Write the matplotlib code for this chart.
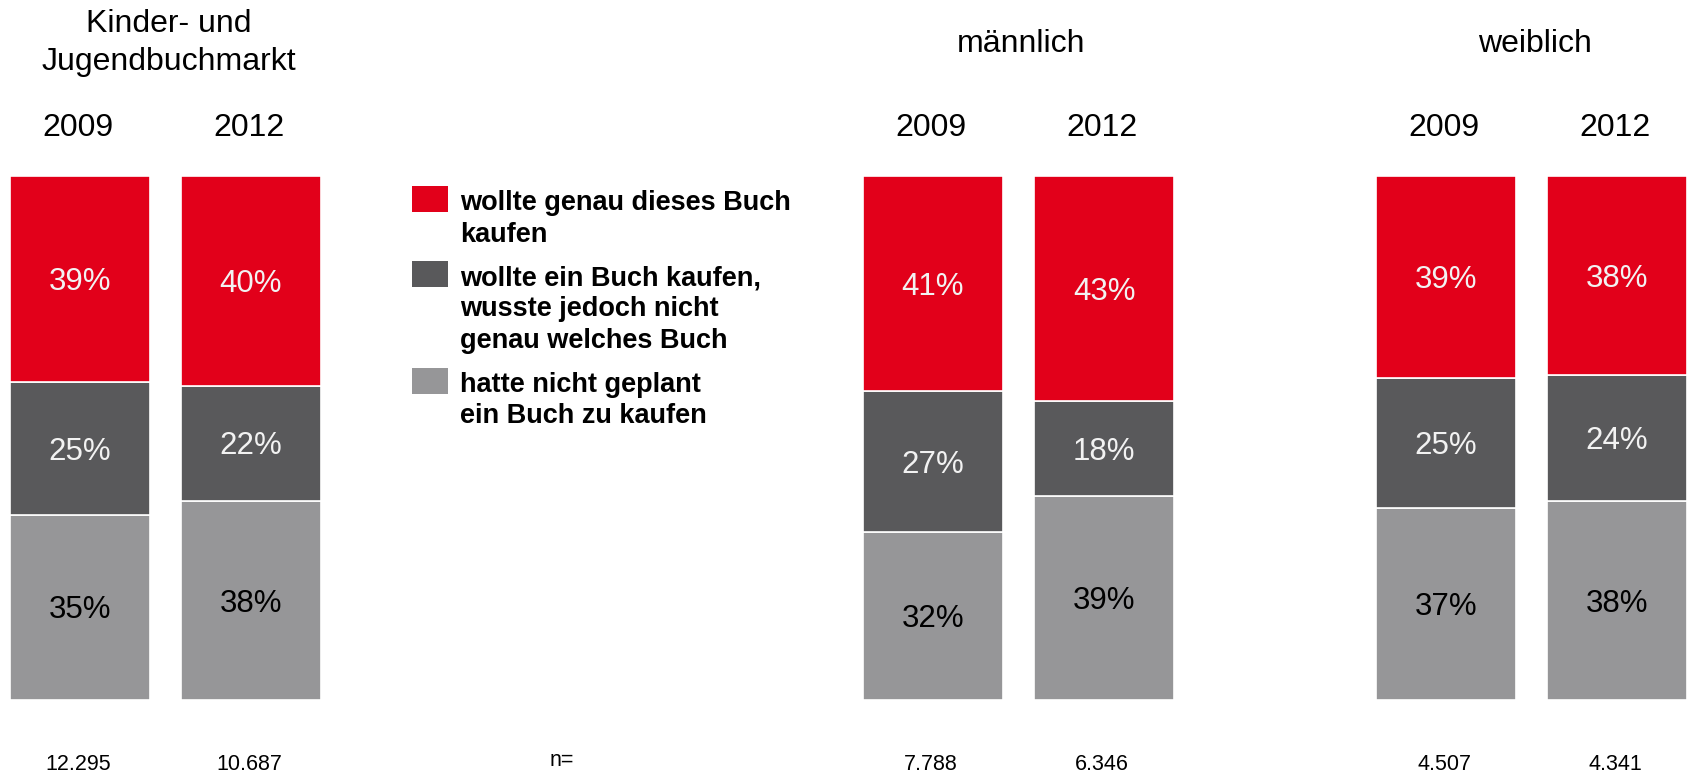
import numpy as np
import matplotlib
matplotlib.use('Agg')
import matplotlib.pyplot as plt
from matplotlib.patches import Rectangle

plt.rcParams['font.family'] = ['Liberation Sans', 'DejaVu Sans']

# === DATA ===
groups = ['Kinder- und\nJugendbuchmarkt', 'männlich', 'weiblich']
years = ['2009', '2012']
categories = ['wollte genau dieses Buch\nkaufen',
              'wollte ein Buch kaufen,\nwusste jedoch nicht\ngenau welches Buch',
              'hatte nicht geplant\nein Buch zu kaufen']
wollte_genau = [39, 40, 41, 43, 39, 38]
wollte_ein = [25, 22, 27, 18, 25, 24]
nicht_geplant = [35, 38, 32, 39, 37, 38]
n_values = ['12.295', '10.687', '7.788', '6.346', '4.507', '4.341']

# === STYLE / LAYOUT (pixels) ===
W, H = 1688, 772
colors = ['#E2001A', '#59595B', '#969698']
text_colors = ['#F2F2F2', '#F2F2F2', 'black']
bar_top, bar_bottom = 176, 700
group_first = [80, 933, 1446]   # centre of first bar in each group
pair_step = 171
bar_w = 140

def fx(x):
    return x / W

def fy(y):
    return 1 - y / H

fig = plt.figure(figsize=(W / 100, H / 100), dpi=100)
ax = fig.add_axes([0, fy(bar_bottom), 1, (bar_bottom - bar_top) / H])
ax.set_xlim(0, W)
ax.set_ylim(0, 100)
ax.axis('off')

xs = np.array([g + k * pair_step for g in group_first for k in range(2)], dtype=float)

# stack bottom -> top: nicht geplant, wollte ein, wollte genau
series = [np.array(nicht_geplant, float), np.array(wollte_ein, float), np.array(wollte_genau, float)]
totals = series[0] + series[1] + series[2]
shares = [s / totals * 100 for s in series]
labels = [nicht_geplant, wollte_ein, wollte_genau]
seg_colors = [colors[2], colors[1], colors[0]]
seg_text = [text_colors[2], text_colors[1], text_colors[0]]

bottom = np.zeros(len(xs))
for sh, lab, c, tc in zip(shares, labels, seg_colors, seg_text):
    ax.bar(xs, sh, width=bar_w, bottom=bottom, color=c, edgecolor='white', linewidth=1.2)
    for x, b, h, v in zip(xs, bottom, sh, lab):
        ax.annotate(f'{v}%', (x, b + h / 2), xytext=(0, -8), textcoords='offset points',
                    ha='center', va='baseline', fontsize=22.5, color=tc)
    bottom += sh

# === HEADERS ===
for gi, name in enumerate(groups):
    cx = group_first[gi] + pair_step / 2 + 3
    lines = name.split('\n')
    if len(lines) == 2:
        base = [32, 70]
    else:
        base = [52]
    for ln, b in zip(lines, base):
        fig.text(fx(cx), fy(b), ln, ha='center', va='baseline', fontsize=23)
    for k, yr in enumerate(years):
        fig.text(fx(group_first[gi] + k * pair_step - 2), fy(136), yr,
                 ha='center', va='baseline', fontsize=23)

# === n LABELS ===
for x, n in zip(xs, n_values):
    fig.text(fx(x - 2), fy(770), n, ha='center', va='baseline', fontsize=15.5)
fig.text(fx(562), fy(766), 'n=', ha='center', va='baseline', fontsize=15.5)

# === LEGEND ===
leg_first_base = [210, 285, 392]
line_step = 31.5
for cat, c, b0 in zip(categories, colors, leg_first_base):
    fig.patches.append(Rectangle((fx(412), fy(b0 + 2)), 36 / W, 26 / H,
                                 transform=fig.transFigure, facecolor=c, edgecolor='none'))
    for i, ln in enumerate(cat.split('\n')):
        fig.text(fx(460), fy(b0 + i * line_step), ln, ha='left', va='baseline',
                 fontsize=19.5, fontweight='bold')

plt.savefig('out.png', dpi=100)
